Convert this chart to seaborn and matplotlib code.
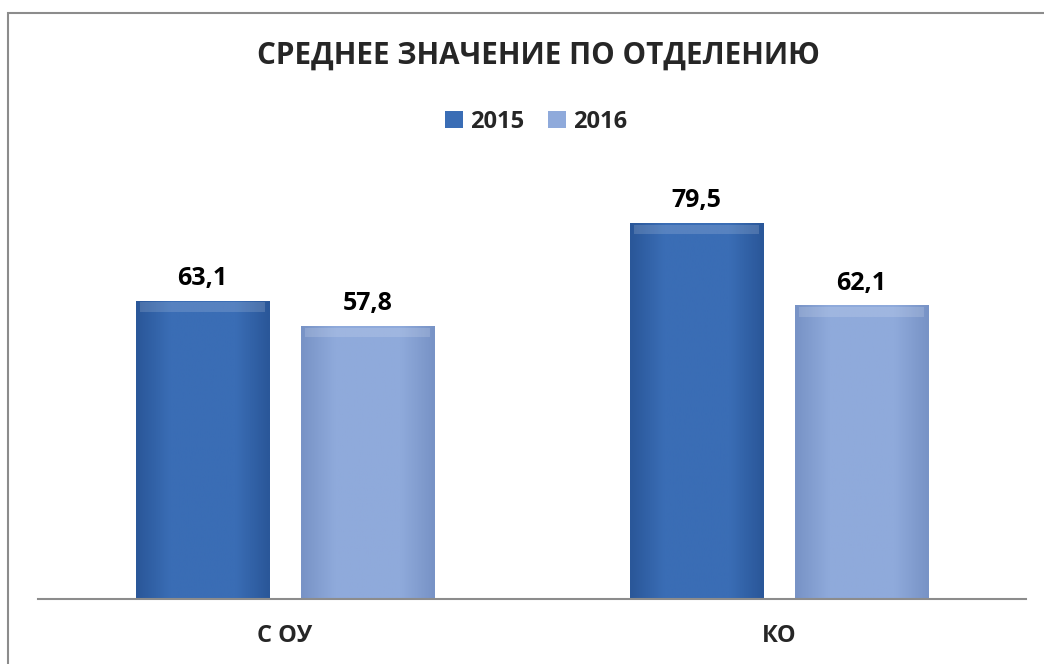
import numpy as np
import pandas as pd
import seaborn as sns
import matplotlib.pyplot as plt
from matplotlib.patches import Rectangle, Patch
from matplotlib.colors import LinearSegmentedColormap

# data
categories = ["С ОУ", "КО"]
years = ["2015", "2016"]
values_2015 = [63.1, 79.5]
values_2016 = [57.8, 62.1]

title = "СРЕДНЕЕ ЗНАЧЕНИЕ ПО ОТДЕЛЕНИЮ"
colors = {"2015": "#3A6DB5", "2016": "#8FAADB"}
edge_dark = {"2015": "#2A5799", "2016": "#7893C6"}

df = pd.DataFrame({
    "cat": categories * 2,
    "year": [years[0]] * 2 + [years[1]] * 2,
    "value": values_2015 + values_2016,
})

sns.set_theme(style="white")
plt.rcParams["font.family"] = ["Open Sans", "DejaVu Sans"]
plt.rcParams["font.weight"] = "bold"

fig = plt.figure(figsize=(10.44, 6.64), dpi=100)
ax = fig.add_axes([38 / 1044, 1 - 599 / 664, 988 / 1044, 419 / 664])

sns.barplot(data=df, x="cat", y="value", hue="year", palette=colors,
            width=0.667, gap=0.19, ax=ax, legend=False, saturation=1)

ax.set_xlim(-0.5, 1.5)
ax.set_ylim(0, 88.6)

# shaded look on the bars
for cont, yr in zip(ax.containers, years):
    cmap = LinearSegmentedColormap.from_list(
        "b" + yr, [edge_dark[yr], colors[yr], colors[yr], colors[yr], edge_dark[yr]])
    for bar in cont:
        x0, y0 = bar.get_x(), bar.get_y()
        w, h = bar.get_width(), bar.get_height()
        grad = np.linspace(0, 1, 60).reshape(1, -1)
        im = ax.imshow(grad, extent=(x0, x0 + w, y0, y0 + h), aspect="auto",
                       cmap=cmap, zorder=bar.get_zorder() + 0.1)
        im.set_clip_path(bar)
        # lighter bevel on top
        top = Rectangle((x0 + w * 0.03, y0 + h - 2.4), w * 0.94, 2.0,
                        facecolor="white", alpha=0.15, edgecolor="none",
                        zorder=bar.get_zorder() + 0.2)
        ax.add_patch(top)
    ax.bar_label(cont, labels=[f"{v:.1f}".replace(".", ",") for v in cont.datavalues],
                 padding=7, fontsize=18, fontweight="bold", color="black")

for s in ["top", "right", "left"]:
    ax.spines[s].set_visible(False)
ax.spines["bottom"].set_color("#8C8C8C")
ax.spines["bottom"].set_linewidth(1.5)
ax.set_yticks([])
ax.set_xlabel("")
ax.set_ylabel("")
ax.tick_params(axis="x", length=0, pad=18, labelsize=17)
for t in ax.get_xticklabels():
    t.set_fontweight("bold")

fig.text(538 / 1044, 1 - 56 / 664, title, ha="center", va="center",
         fontsize=21.3, fontweight="bold")

handles = [Patch(facecolor=colors[y], edgecolor="none", label=y) for y in years]
fig.legend(handles=handles, loc="center", bbox_to_anchor=(536 / 1044, 1 - 122 / 664),
           ncol=2, frameon=False, handlelength=0.75, handleheight=0.75,
           handletextpad=0.3, columnspacing=1.0, prop={"weight": "bold", "size": 17})

# outer frame
fig.patches.append(Rectangle((8 / 1044, -0.01), 1.02, 1 - 13 / 664 + 0.01,
                             transform=fig.transFigure, fill=False,
                             edgecolor="#8C8C8C", linewidth=1.5))

fig.savefig("out.png", dpi=100)
